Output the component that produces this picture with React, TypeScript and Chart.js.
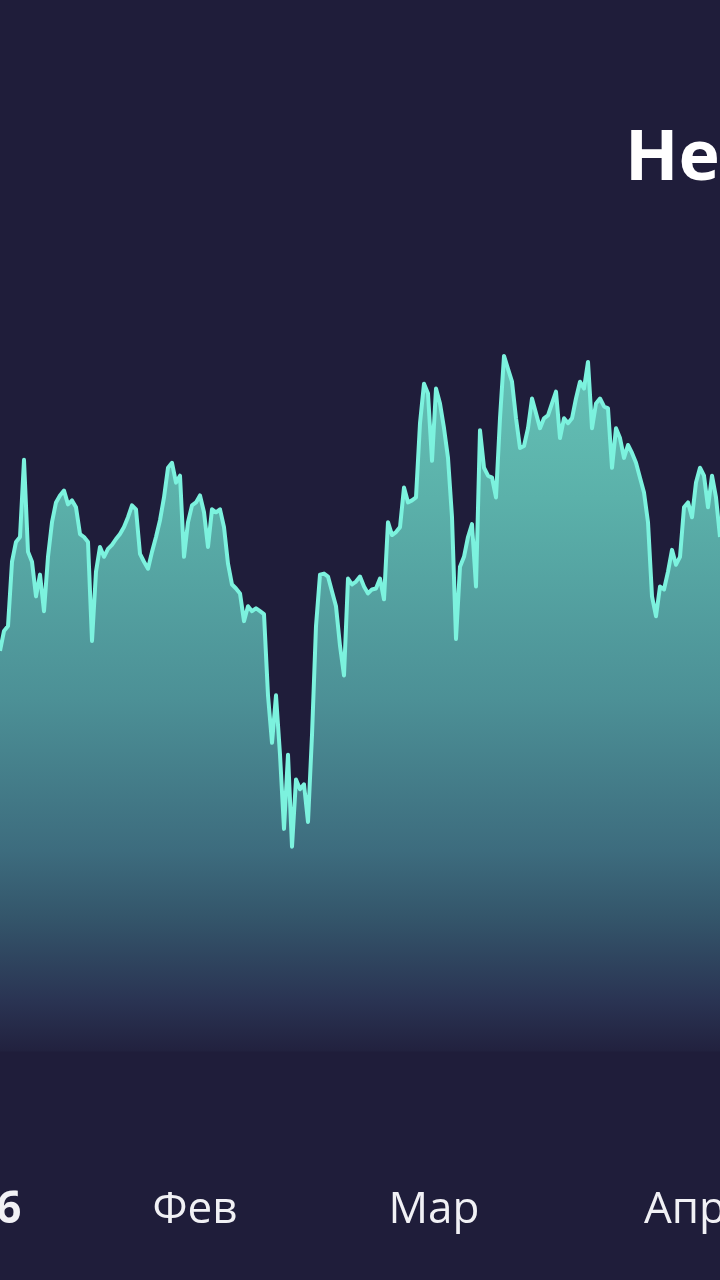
import React, { useEffect, useRef } from "react";
import { Chart, registerables } from "chart.js";

Chart.register(...registerables);

// Price series (one value per step across the visible window)
const seriesValues = [
  40.5, 42.5, 43.0, 49.5, 51.5, 52.0, 59.8, 50.5, 49.5, 46.0,
  48.2, 44.5, 50.0, 53.5, 55.5, 56.2, 56.7, 55.3, 55.7, 55.0,
  52.3, 52.0, 51.5, 41.5, 48.5, 51.0, 50.0, 50.8, 51.2, 51.8,
  52.3, 53.0, 54.0, 55.2, 54.8, 50.3, 49.5, 48.8, 50.5, 52.0,
  53.7, 56.0, 59.0, 59.5, 57.5, 58.2, 50.0, 53.5, 55.2, 55.5,
  56.2, 54.5, 51.0, 54.8, 54.5, 54.8, 53.0, 49.3, 47.2, 46.8,
  46.3, 43.5, 45.0, 44.5, 44.8, 44.5, 44.2, 36.0, 31.2, 36.0,
  30.0, 22.5, 30.0, 20.7, 27.5, 26.5, 27.0, 23.2, 32.0, 43.0,
  48.2, 48.3, 48.0, 46.5, 45.0, 41.0, 38.0, 47.8, 47.2, 47.5,
  48.0, 47.0, 46.3, 46.7, 46.8, 47.8, 45.7, 53.5, 52.2, 52.5,
  53.0, 57.0, 55.5, 55.7, 56.0, 63.5, 67.5, 66.5, 59.7, 67.0,
  65.5, 63.0, 60.0, 54.0, 41.7, 49.0, 50.0, 52.0, 53.3, 47.0,
  62.8, 59.0, 58.2, 58.0, 56.0, 64.0, 70.3, 69.0, 67.7, 64.0,
  61.0, 61.2, 63.0, 66.0, 64.5, 63.0, 64.0, 64.3, 65.5, 66.7,
  62.0, 64.0, 63.5, 64.0, 66.0, 67.7, 67.0, 69.7, 63.0, 65.5,
  66.0, 65.2, 65.0, 59.0, 63.0, 62.0, 60.0, 61.3, 60.5, 59.5,
  58.0, 56.5, 53.5, 46.0, 44.0, 47.0, 46.7, 48.5, 50.7, 49.2,
  50.0, 55.0, 55.5, 54.0, 57.5, 59.0, 58.2, 55.0, 58.2, 56.0,
  52.0,
];

// X-axis month ticks (positions in series-step units)
const tickLabels = ["2026", "Фев", "Мар", "Апр"];
const tickPositions = [-7.25, 48.75, 108.5, 171.25];

// Single faint horizontal guide line
const gridValues = [14];

const titleText = "Нефть";

export default function App() {
  const ref = useRef<HTMLCanvasElement>(null);

  useEffect(() => {
    const canvas = ref.current;
    if (!canvas) return;
    const chart = new Chart(canvas, {
      type: "line",
      data: {
        datasets: [
          {
            data: seriesValues.map((v, i) => ({ x: i, y: v })),
            borderColor: "#7cf2de",
            borderWidth: 4,
            borderJoinStyle: "round",
            pointRadius: 0,
            tension: 0,
            fill: { value: 0 },
            backgroundColor: (c: any) => {
              const ctx = c.chart.ctx;
              const g = ctx.createLinearGradient(0, 340, 0, 1060);
              g.addColorStop(0, "#66c4b8");
              g.addColorStop(0.22, "#5bb1aa");
              g.addColorStop(0.5, "#4c9096");
              g.addColorStop(0.71, "#3d6c7e");
              g.addColorStop(0.8, "#34566b");
              g.addColorStop(0.917, "#2a3453");
              g.addColorStop(1, "#201e3b");
              return g;
            },
          } as any,
        ],
      },
      options: {
        responsive: false,
        animation: false,
        devicePixelRatio: 1,
        layout: { padding: { top: 260, bottom: 37, left: 0, right: 0 } },
        plugins: {
          legend: { display: false },
          tooltip: { enabled: false },
          title: { display: false },
        },
        scales: {
          x: {
            type: "linear",
            min: -22.5,
            max: 202.5,
            grid: { display: false },
            border: { display: false },
            afterBuildTicks: (s: any) => {
              s.ticks = tickPositions.map((v) => ({ value: v }));
            },
            ticks: {
              autoSkip: false,
              maxRotation: 0,
              minRotation: 0,
              padding: 6,
              color: "#f1f1f5",
              font: (ctx: any) => ({
                family: "'Open Sans', sans-serif",
                size: 44,
                weight: ctx.index === 0 ? "bold" : "normal",
              }),
              callback: (_v: any, i: number) => tickLabels[i],
            },
          },
          y: {
            z: 1,
            min: -12,
            max: 80,
            grid: {
              color: "rgba(24,38,58,0.45)",
              lineWidth: 2,
              drawTicks: false,
            },
            border: { display: false },
            ticks: { display: false },
            afterBuildTicks: (s: any) => {
              s.ticks = gridValues.map((v) => ({ value: v }));
            },
          },
        },
      } as any,
    });
    return () => chart.destroy();
  }, []);

  return (
    <div
      style={{
        position: "absolute",
        left: 0,
        top: 0,
        width: 720,
        height: 1280,
        overflow: "hidden",
        background: "#1f1d3a",
      }}
    >
      <canvas
        ref={ref}
        width={900}
        height={1280}
        style={{ position: "absolute", left: -90, top: 0, width: 900, height: 1280 }}
      />
      <div
        style={{
          position: "absolute",
          left: 625,
          top: 118,
          fontFamily: "'Open Sans', sans-serif",
          fontWeight: 700,
          fontSize: 70,
          lineHeight: 1,
          color: "#ffffff",
          whiteSpace: "nowrap",
        }}
      >
        {titleText}
      </div>
    </div>
  );
}
